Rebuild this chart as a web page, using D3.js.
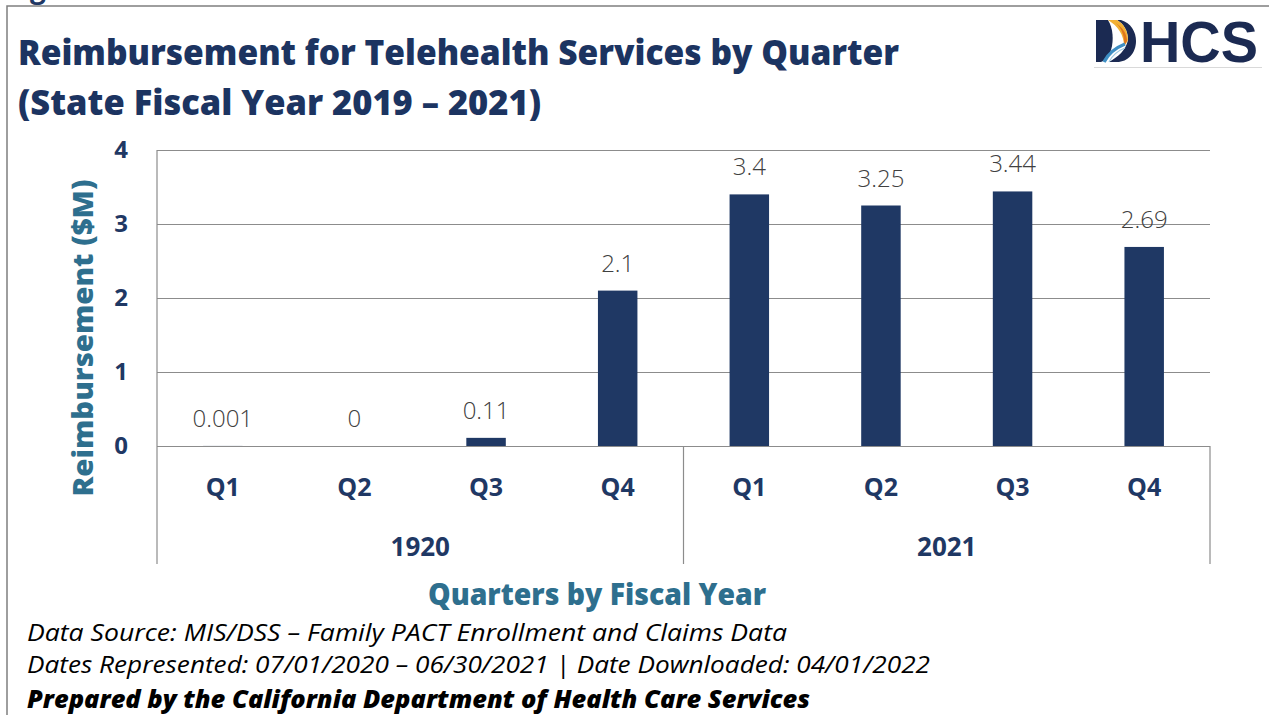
<!DOCTYPE html>
<html>
<head>
<meta charset="utf-8">
<script src="https://cdn.jsdelivr.net/npm/d3@7"></script>
<style>
  body { margin: 0; background: #fff; }
  svg { display: block; font-family: "Open Sans", "Noto Sans", sans-serif; }
</style>
</head>
<body>
<div id="chart"></div>
<script>
// data
var quarters = ["Q1", "Q2", "Q3", "Q4", "Q1", "Q2", "Q3", "Q4"];
var fiscalYears = ["1920", "2021"];
var barYear = [0, 0, 0, 0, 1, 1, 1, 1];
var values = [0.001, 0, 0.11, 2.1, 3.4, 3.25, 3.44, 2.69];
var yTicks = [0, 1, 2, 3, 4];

var W = 1269, H = 715;
var navy = "#1f3864", teal = "#2e6f8e", gray = "#8c8c8c";
var plot = {left: 157, right: 1210, top: 150, bottom: 446, catBottom: 564};

var svg = d3.select("#chart").append("svg")
    .attr("width", W)
    .attr("height", H);

// page frame
svg.append("path")
    .attr("d", "M7,715 V6 H1269")
    .attr("fill", "none")
    .attr("stroke", "#7f7f7f")
    .attr("stroke-width", 1.5);

// heading of the page above, cut by the top edge as in the source
svg.append("text")
    .attr("x", 30).attr("y", -2)
    .attr("fill", navy)
    .style("font-weight", 700)
    .style("font-size", "28px")
    .text("g");

// title
svg.append("text")
    .attr("x", 18).attr("y", 65)
    .attr("fill", "#1c3461")
    .attr("textLength", 881).attr("lengthAdjust", "spacingAndGlyphs")
    .style("font-weight", 800).style("font-size", "35px")
    .text("Reimbursement for Telehealth Services by Quarter");
svg.append("text")
    .attr("x", 18).attr("y", 115)
    .attr("fill", "#1c3461")
    .attr("textLength", 523).attr("lengthAdjust", "spacingAndGlyphs")
    .style("font-weight", 800).style("font-size", "35px")
    .text("(State Fiscal Year 2019 \u2013 2021)");

// DHCS logo
svg.append("line")
    .attr("x1", 1094).attr("x2", 1262).attr("y1", 67.5).attr("y2", 67.5)
    .attr("stroke", "#d9d9d9");
var logo = svg.append("g").attr("transform", "translate(1096,20)");
logo.append("path")
    .attr("d", "M0,0 H12 C17,8 18,20 15,30 C13,36 9,40 5,42 H0 Z")
    .attr("fill", "#1b2a52");
logo.append("path")
    .attr("d", "M21,0 H25 C35,3 40,12 40,21 C40,33 32,42 21,42 H13 C22,37 30,30 32,20 C32,11 28,4 21,0 Z")
    .attr("fill", "#1b2a52");
logo.append("path")
    .attr("d", "M12,0 H21 C28,4 32,11 32,20 C31,22 30,24 28,26 C28,15 22,6 12,0 Z")
    .attr("fill", "#f2b134");
logo.append("path")
    .attr("d", "M20,3 C27,8 31,14 31,21 L28,26 C29,17 26,9 20,3 Z")
    .attr("fill", "#e0761c");
logo.append("path")
    .attr("d", "M8,42 C12,34 19,28 29,24")
    .attr("fill", "none")
    .attr("stroke", "#3f8fc4")
    .attr("stroke-width", 3.5);
logo.append("path")
    .attr("d", "M13,42 C16,36 21,31 29,28")
    .attr("fill", "none")
    .attr("stroke", "#9cc8e0")
    .attr("stroke-width", 1.2);
logo.append("text")
    .attr("x", 44).attr("y", 42)
    .attr("fill", "#1b2a52")
    .attr("textLength", 118).attr("lengthAdjust", "spacingAndGlyphs")
    .style("font-family", "'Liberation Sans', Arial, sans-serif")
    .style("font-weight", 700).style("font-size", "57px")
    .text("HCS");

// scales
var keys = quarters.map(function(q, i) { return fiscalYears[barYear[i]] + "-" + q; });
var x = d3.scaleBand()
    .domain(keys)
    .range([plot.left, plot.right])
    .paddingInner(0.7)
    .paddingOuter(0.35);
var xYear = d3.scaleBand()
    .domain(fiscalYears)
    .range([plot.left, plot.right]);
var y = d3.scaleLinear()
    .domain([0, 4])
    .range([plot.bottom, plot.top]);

// gridlines
var grid = svg.append("g")
    .attr("transform", "translate(" + plot.left + ",0)")
    .call(d3.axisLeft(y).tickValues(yTicks).tickSize(-(plot.right - plot.left)).tickFormat(""));
grid.select(".domain").remove();
grid.selectAll("line").attr("stroke", gray).attr("stroke-width", 1.2);

// y tick labels
var yAxis = svg.append("g")
    .attr("transform", "translate(" + plot.left + ",0)")
    .call(d3.axisLeft(y).tickValues(yTicks).tickSize(0).tickPadding(29).tickFormat(d3.format("d")));
yAxis.select(".domain").remove();
yAxis.selectAll("text")
    .attr("fill", navy)
    .style("font-family", "'Open Sans', sans-serif")
    .style("font-weight", 700)
    .style("font-size", "24px");

// category axis frame
svg.append("line")
    .attr("x1", plot.left).attr("x2", plot.left)
    .attr("y1", plot.top).attr("y2", plot.catBottom)
    .attr("stroke", gray).attr("stroke-width", 1.2);
svg.selectAll(".yearSep")
    .data(fiscalYears)
  .enter().append("line")
    .attr("class", "yearSep")
    .attr("x1", function(d) { return xYear(d) + xYear.bandwidth(); })
    .attr("x2", function(d) { return xYear(d) + xYear.bandwidth(); })
    .attr("y1", plot.bottom).attr("y2", plot.catBottom)
    .attr("stroke", gray).attr("stroke-width", 1.2);

// bars
svg.selectAll(".bar")
    .data(values)
  .enter().append("rect")
    .attr("class", "bar")
    .attr("x", function(d, i) { return x(keys[i]); })
    .attr("width", x.bandwidth())
    .attr("y", function(d) { return y(d); })
    .attr("height", function(d) { return y(0) - y(d); })
    .attr("fill", navy);

// value labels
svg.selectAll(".val")
    .data(values)
  .enter().append("text")
    .attr("class", "val")
    .attr("x", function(d, i) { return x(keys[i]) + x.bandwidth() / 2; })
    .attr("y", function(d) { return y(d) - 19; })
    .attr("text-anchor", "middle")
    .attr("fill", "#404040")
    .style("font-size", "24px")
    .style("font-weight", 300)
    .text(function(d) { return String(d); });

// quarter labels
svg.selectAll(".qlab")
    .data(quarters)
  .enter().append("text")
    .attr("class", "qlab")
    .attr("x", function(d, i) { return x(keys[i]) + x.bandwidth() / 2; })
    .attr("y", 496)
    .attr("text-anchor", "middle")
    .attr("fill", navy)
    .style("font-weight", 700)
    .style("font-size", "25px")
    .text(function(d) { return d; });

// year labels
svg.selectAll(".ylab")
    .data(fiscalYears)
  .enter().append("text")
    .attr("class", "ylab")
    .attr("x", function(d) { return xYear(d) + xYear.bandwidth() / 2; })
    .attr("y", 556)
    .attr("text-anchor", "middle")
    .attr("fill", navy)
    .style("font-weight", 700)
    .style("font-size", "26px")
    .text(function(d) { return d; });

// axis titles
svg.append("text")
    .attr("transform", "translate(93,338) rotate(-90)")
    .attr("text-anchor", "middle")
    .attr("fill", teal)
    .attr("textLength", 317).attr("lengthAdjust", "spacingAndGlyphs")
    .style("font-weight", 800).style("font-size", "28px")
    .text("Reimbursement ($M)");
svg.append("text")
    .attr("x", 597).attr("y", 605)
    .attr("text-anchor", "middle")
    .attr("fill", teal)
    .attr("textLength", 338).attr("lengthAdjust", "spacingAndGlyphs")
    .style("font-weight", 800).style("font-size", "30px")
    .text("Quarters by Fiscal Year");

// footer notes
var notes = [
  {t: "Data Source: MIS/DSS \u2013 Family PACT Enrollment and Claims Data", y: 641, w: 760, b: 400},
  {t: "Dates Represented: 07/01/2020 \u2013 06/30/2021 | Date Downloaded: 04/01/2022", y: 673, w: 903, b: 400},
  {t: "Prepared by the California Department of Health Care Services", y: 708, w: 783, b: 800}
];
svg.selectAll(".note")
    .data(notes)
  .enter().append("text")
    .attr("class", "note")
    .attr("x", 27)
    .attr("y", function(d) { return d.y; })
    .attr("textLength", function(d) { return d.w; })
    .attr("lengthAdjust", "spacingAndGlyphs")
    .attr("fill", "#000")
    .style("font-style", "italic")
    .style("font-weight", function(d) { return d.b; })
    .style("font-size", "24px")
    .text(function(d) { return d.t; });
</script>
</body>
</html>
